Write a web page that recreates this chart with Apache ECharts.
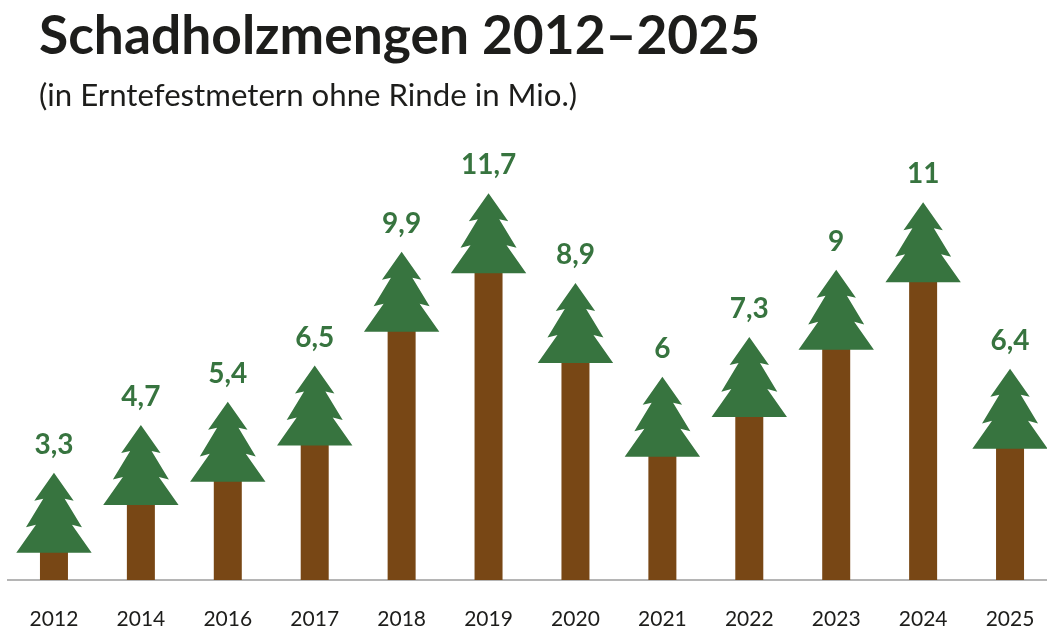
<!DOCTYPE html>
<html><head><meta charset="utf-8">
<style>html,body{margin:0;padding:0;background:#fff}#c{width:1047px;height:629px}</style>
<script src="https://cdn.jsdelivr.net/npm/echarts@6/dist/echarts.min.js"></script></head>
<body><div id="c"></div>
<script>
const categories=['2012','2014','2016','2017','2018','2019','2020','2021','2022','2023','2024','2025'];
const printedValues=['3,3','4,7','5,4','6,5','9,9','11,7','8,9','6','7,3','9','11','6,4'];
const drawnHeights=[3.25,4.7,5.4,6.5,9.95,11.72,9.0,6.16,7.36,9.4,11.45,6.4];
const FONT='Lato';
const GREEN='#37743f',BROWN='#784715';
const treeHeight=80;
const treeShape=[[0,0],[19.7,28],[10.7,26],[28,54.6],[18,52],[37.7,80],[-37.7,80],[-18,52],[-28,54.6],[-10.7,26],[-19.7,28]];
const chart=echarts.init(document.getElementById('c'));
chart.setOption({
  animation:false,
  title:[
    {text:'Schadholzmengen 2012–2025',left:39,top:10,padding:0,textStyle:{fontFamily:FONT,fontWeight:700,fontSize:53.3,color:'#1d1d1b'}},
    {text:'(in Erntefestmetern ohne Rinde in Mio.)',left:39,top:80,padding:0,textStyle:{fontFamily:FONT,fontWeight:400,fontSize:31.2,color:'#1d1d1b'}}
  ],
  grid:{left:10.5,width:1043,top:151,height:429,outerBoundsMode:'none'},
  xAxis:{type:'category',data:categories,axisTick:{show:false},
    axisLine:{lineStyle:{color:'#b5b5b5',width:2}},
    axisLabel:{margin:29,fontFamily:FONT,fontSize:21,color:'#1d1d1b',interval:0}},
  yAxis:{type:'value',min:0,max:13,show:false,splitLine:{show:false}},
  graphic:[{type:'line',shape:{x1:7,y1:580,x2:12,y2:580},style:{stroke:'#b5b5b5',lineWidth:2}}],
  series:[{type:'custom',clip:false,data:drawnHeights.map((v,i)=>[i,v,printedValues[i]]),
    renderItem(p,api){
      const top=api.coord([api.value(0),api.value(1)]);
      const base=api.coord([api.value(0),0]);
      const bw=28;
      return {type:'group',children:[
        {type:'rect',shape:{x:top[0]-bw/2,y:top[1]+treeHeight-1,width:bw,height:base[1]-top[1]-treeHeight+1},style:{fill:BROWN}},
        {type:'polygon',shape:{points:treeShape.map(d=>[top[0]+d[0],top[1]+d[1]])},style:{fill:GREEN}},
        {type:'text',x:top[0],y:top[1]-28,style:{text:printedValues[p.dataIndex],fill:GREEN,font:'700 28px '+FONT,textAlign:'center',textVerticalAlign:'middle'}}
      ]};
    }}]
});
</script></body></html>
